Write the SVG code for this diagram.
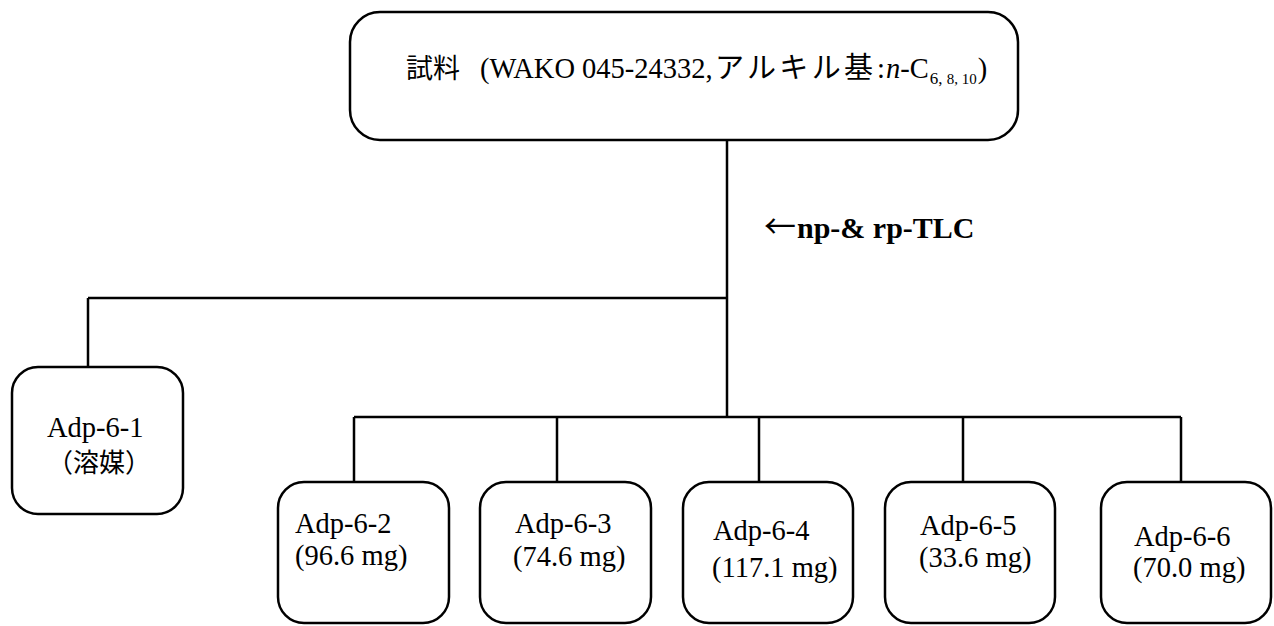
<svg xmlns="http://www.w3.org/2000/svg" width="1274" height="626" viewBox="0 0 1274 626">
<style>
.box{fill:#fff;stroke:#000;stroke-width:2.5}
.ln{fill:none;stroke:#000;stroke-width:2.5}
text{font-family:"Liberation Serif","Noto Sans CJK JP",serif;font-size:28.5px;fill:#000}
.cjk{font-family:"Noto Sans CJK JP",sans-serif}
.b{font-weight:bold}
</style>
<rect width="1274" height="626" fill="#fff"/>
<g id="connectors">
<path class="ln" d="M727 140V417M88 298H727M88 298V367M354 417H1181M354 417V482M557 417V482M759 417V482M963 417V482M1181 417V482"/>
</g>
<g id="label">
<text class="b" y="238"><tspan x="764" class="cjk" font-weight="normal" font-size="32">←</tspan><tspan x="797" font-size="30">np-&amp; rp-TLC</tspan></text>
</g>
<g id="top">
<rect class="box" x="350" y="12" width="668" height="128" rx="30"/>
<text y="78" font-size="28"><tspan x="406" class="cjk" font-size="27">試料</tspan><tspan x="480">(WAKO 045-24332,</tspan><tspan x="715" class="cjk" textLength="158" lengthAdjust="spacing" font-size="29">アルキル基</tspan><tspan x="877">:</tspan><tspan x="886" font-style="italic">n</tspan><tspan>-C</tspan><tspan dx="1" y="84" font-size="17">6, </tspan><tspan font-size="15">8, 10</tspan><tspan dx="1" y="78">)</tspan></text>
</g>
<g id="n1">
<rect class="box" x="12" y="367" width="171" height="147" rx="26"/>
<text x="47" y="437">Adp-6-1</text>
<text x="47" y="472"><tspan class="cjk" font-size="26">（溶媒）</tspan></text>
</g>
<g id="n2">
<rect class="box" x="278" y="482" width="171" height="141" rx="26"/>
<text x="295" y="533">Adp-6-2</text>
<text x="295" y="565">(96.6 mg)</text>
</g>
<g id="n3">
<rect class="box" x="480" y="482" width="171" height="141" rx="26"/>
<text x="515" y="533">Adp-6-3</text>
<text x="513" y="566">(74.6 mg)</text>
</g>
<g id="n4">
<rect class="box" x="683" y="482" width="170" height="141" rx="26"/>
<text x="713" y="540">Adp-6-4</text>
<text x="712" y="577">(117.1 mg)</text>
</g>
<g id="n5">
<rect class="box" x="885" y="482" width="170" height="141" rx="26"/>
<text x="920" y="535">Adp-6-5</text>
<text x="919" y="567">(33.6 mg)</text>
</g>
<g id="n6">
<rect class="box" x="1101" y="482" width="170" height="141" rx="26"/>
<text x="1134" y="546">Adp-6-6</text>
<text x="1133" y="577">(70.0 mg)</text>
</g>
</svg>
